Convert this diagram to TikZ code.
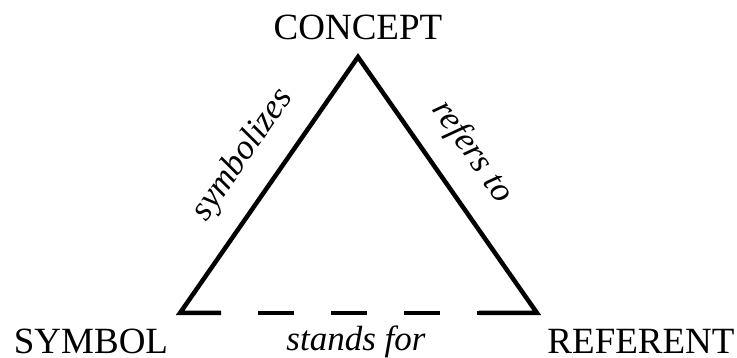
\documentclass[tikz,border=0pt]{standalone}
\usepackage{fontspec}
\setmainfont{Liberation Serif}
\begin{document}
\begin{tikzpicture}[x=1pt,y=-1pt,
  term/.style={font=\fontsize{37}{40}\selectfont, anchor=base, inner sep=0pt},
  rel/.style={font=\fontsize{35}{38}\selectfont\itshape, inner sep=0pt},
  edge/.style={line width=4.5pt, black}]
\useasboundingbox (0,0) rectangle (737,358);
\coordinate (S) at (180,313);
\coordinate (C) at (358,57);
\coordinate (R) at (537,313);
\coordinate (SL) at (221,313);
\coordinate (RL) at (479,313);
\node[term] (concept) at (358,40) {CONCEPT};
\node[term] (symbol) at (91,354) {SYMBOL};
\node[term] (referent) at (641,354) {REFERENT};
\draw[edge] (SL) -- (S) -- (C) -- (R) -- (RL);
\draw[edge, dash pattern=on 36pt off 37pt, dash phase=36pt] (SL) -- (RL);
\node[rel, rotate=55.2] (sym) at (243,155) {symbolizes};
\node[rel, rotate=-55.2] (ref) at (472,152) {refers to};
\node[rel, anchor=base] (stands) at (356,351) {stands for};
\end{tikzpicture}
\end{document}
